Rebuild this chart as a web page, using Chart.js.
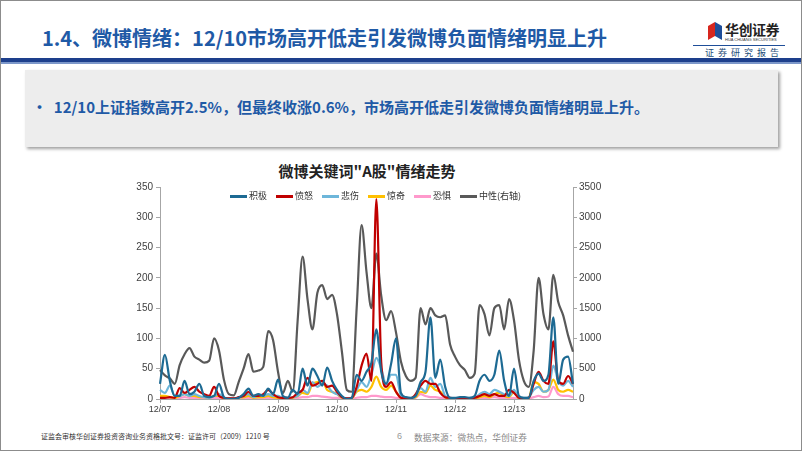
<!DOCTYPE html>
<html>
<head>
<meta charset="utf-8">
<script src="https://cdn.jsdelivr.net/npm/chart.js@4/dist/chart.umd.min.js"></script>
<style>
  html, body { margin: 0; padding: 0; }
  body { width: 802px; height: 451px; position: relative; background: #fff; overflow: hidden;
         font-family: "Noto Sans CJK SC", "Noto Sans", sans-serif; }
  .frame { position: absolute; left: 0; top: 0; width: 800px; height: 449px; border: 1px solid #8c8c8c; }
  .title { position: absolute; left: 42px; top: 23px; font-size: 20px; font-weight: 700; color: #1f5aa6; white-space: nowrap; }
  .logo-icon { position: absolute; left: 708px; top: 22px; width: 14px; height: 18px; }
  .logo-txt { position: absolute; left: 725px; top: 19px; font-size: 14px; font-weight: 700; color: #222; letter-spacing: -0.5px; }
  .logo-en { position: absolute; left: 725px; top: 37px; font-size: 4px; color: #333; font-family: "Liberation Sans", sans-serif; }
  .logo-line { position: absolute; left: 693px; top: 45px; width: 92px; height: 1px; background: #1f4e99; }
  .logo-sub { position: absolute; left: 705px; top: 46px; font-size: 9px; color: #1f4e79; letter-spacing: 4px; }
  .band { position: absolute; left: 1px; top: 58px; width: 800px; height: 4px; background: #1d3f8c; }
  .band2 { position: absolute; left: 1px; top: 62px; width: 800px; height: 2px; background: #7c97c9; }
  .box { position: absolute; left: 25px; top: 70px; width: 753px; height: 77px; background: #ededed; box-shadow: 2px 2px 3px #a0a0a0; }
  .bullet { position: absolute; left: 32px; top: 96px; font-size: 15px; font-weight: 700; color: #1f5aa6; white-space: nowrap; }
  .ctitle { position: absolute; left: 0; width: 734px; top: 160px; text-align: center; font-size: 15px; font-weight: 700; color: #222; }
  .legend { position: absolute; top: 189px; left: 230px; font-size: 9px; color: #333; white-space: nowrap; }
  .legend span.item { display: inline-block; margin-right: 9px; }
  .legend span.sw { display: inline-block; width: 17px; height: 2.5px; vertical-align: middle; margin-right: 2px; }
  .chartbox { position: absolute; left: 125px; top: 178px; width: 485px; height: 237px; }
  .foot1 { position: absolute; left: 41px; top: 431px; font-size: 7px; color: #333; white-space: nowrap; }
  .pnum { position: absolute; left: 397px; top: 431px; font-size: 9px; color: #999; font-family: "Liberation Sans", sans-serif; }
  .foot2 { position: absolute; left: 414px; top: 431px; font-size: 8.7px; color: #888; white-space: nowrap; }
</style>
</head>
<body>
<div class="frame"></div>
<div class="title">1.4、微博情绪：12/10市场高开低走引发微博负面情绪明显上升</div>
<svg class="logo-icon" viewBox="0 0 14 18">
  <polygon points="0,4 7,0 7,14 0,18" fill="#d7261e"/>
  <polygon points="7,0 14,4 14,18 7,14" fill="#1f4e99"/>
</svg>
<div class="logo-txt">华创证券</div>
<div class="logo-en">HUA CHUANG SECURITIES</div>
<div class="logo-line"></div>
<div class="logo-sub">证券研究报告</div>
<div class="band"></div>
<div class="band2"></div>
<div class="box"></div>
<div class="bullet">•&nbsp;&nbsp;12/10上证指数高开2.5%，但最终收涨0.6%，市场高开低走引发微博负面情绪明显上升。</div>
<div class="ctitle">微博关键词"A股"情绪走势</div>
<div class="chartbox"><canvas id="c" width="485" height="237"></canvas></div>
<div class="legend" id="legend"></div>
<div class="foot1">证监会审核华创证券投资咨询业务资格批文号：证监许可（2009）1210 号</div>
<div class="pnum">6</div>
<div class="foot2">数据来源：微热点，华创证券</div>
<script>
// one point every 2 hours, 12/07 00:00 .. 12/14 00:00
const days = ['12/07', '12/08', '12/09', '12/10', '12/11', '12/12', '12/13', '12/14'];
const seriesNames = ['积极', '愤怒', '悲伤', '惊奇', '恐惧', '中性(右轴)'];
const leftTicks = [0, 50, 100, 150, 200, 250, 300, 350];
const rightTicks = [0, 500, 1000, 1500, 2000, 2500, 3000, 3500];

const jiji = [25,73,30,5,5,30,8,12,25,5, 3,5,25,3,0,0,2,8,17,5, 8,5,17,8,32,5,2,15,8,50,
  22,50,38,22,52,30,15,5,0,2, 40,30,45,60,115,45,25,58,100,10, 3,2,5,28,45,135,35,65,20,2,
  2,3,3,2,5,30,40,30,40,80, 30,5,50,5,2,2,30,42,30,40, 135,25,65,70,25];
const fennu = [2,2,3,2,18,10,15,20,12,8, 5,20,5,2,1,1,3,5,12,5, 5,8,15,8,3,2,2,3,10,15,
  35,22,25,30,20,22,12,3,1,2, 20,55,75,30,330,60,20,28,12,2, 1,1,8,22,30,25,25,10,3,2,
  1,1,1,1,2,5,8,5,8,5, 5,15,10,2,1,2,25,45,30,25, 95,30,25,38,25];
const beishang = [15,10,22,5,5,8,5,8,5,3, 2,5,8,2,1,1,2,5,8,3, 5,5,8,5,5,2,2,3,5,15,
  10,28,20,25,22,12,8,3,1,2, 15,28,20,40,68,50,25,40,40,5, 2,1,5,18,12,35,20,25,5,2,
  1,1,1,2,2,8,12,8,15,12, 8,5,15,2,2,3,15,20,12,15, 55,30,22,30,20];
const jingqi = [5,5,3,2,5,8,5,5,3,3, 2,5,5,1,0,0,2,3,5,2, 3,3,5,3,2,1,1,2,5,10,
  8,25,28,30,15,12,8,2,0,1, 12,15,12,20,37,20,15,22,12,2, 1,1,3,12,10,22,15,12,3,1,
  1,0,0,1,1,3,5,3,8,10, 5,3,12,1,1,2,28,25,12,15, 32,15,12,15,12];
const kongju = [3,2,2,1,2,3,2,2,1,1, 1,2,2,1,0,0,1,1,2,1, 1,1,2,1,1,0,0,1,2,3,
  3,5,5,4,3,2,2,1,0,0, 2,3,3,5,5,4,3,3,2,1, 0,0,2,8,5,3,3,2,1,0,
  0,0,0,0,1,1,2,2,3,2, 2,1,2,0,0,1,3,5,3,4, 20,8,5,5,3];
const zhongxing = [480,390,340,250,560,740,840,700,650,600, 630,1000,800,320,80,60,280,500,740,450,
  470,530,1120,970,450,100,300,120,1300,2350, 1650,1150,1750,1880,1650,1720,1400,780,150,120,
  1500,2870,2100,1500,2400,1700,1300,1450,1100,620, 380,300,350,1500,1230,1500,1380,1350,1380,900,
  700,560,480,350,420,1550,1400,1050,1500,1550, 1150,1650,1300,650,300,200,800,2000,1400,1150,
  2050,1600,1380,1050,780];

const labels = [];
days.forEach(function(d, di) {
  for (let h = 0; h < 24; h += 2) {
    if (di === days.length - 1 && h > 0) break;
    labels.push(d + ' ' + String(h).padStart(2, '0') + ':00');
  }
});

const colors = ['#1d6a93', '#c00000', '#6db6da', '#ffc000', '#ff99cc', '#595959'];
const values = [jiji, fennu, beishang, jingqi, kongju, zhongxing];

const datasets = values.map(function(v, i) {
  return {
    label: seriesNames[i],
    data: v,
    borderColor: colors[i],
    backgroundColor: colors[i],
    borderWidth: 2.2,
    pointRadius: 0,
    cubicInterpolationMode: 'monotone',
    yAxisID: i === 5 ? 'y1' : 'y'
  };
});

const axisColor = '#a6a6a6';
const tickFont = { family: '"Liberation Sans", Arial, sans-serif', size: 10 };
const plainNum = function(v) { return String(v); };

const chart = new Chart(document.getElementById('c'), {
  type: 'line',
  data: { labels: labels, datasets: datasets },
  options: {
    responsive: false,
    animation: false,
    layout: { padding: { top: 8, left: 0, right: 0, bottom: 0 } },
    plugins: { legend: { display: false }, title: { display: false }, tooltip: { enabled: false } },
    scales: {
      x: {
        type: 'category',
        offset: false,
        grid: { display: true, drawOnChartArea: false, drawTicks: true, tickLength: 4, color: axisColor },
        border: { display: true, color: axisColor },
        ticks: {
          autoSkip: false, maxRotation: 0, padding: 1, color: '#404040',
          font: { family: tickFont.family, size: 9 },
          callback: function(value) { return this.getLabelForValue(value).slice(0, 5); }
        },
        afterBuildTicks: function(s) {
          s.ticks = s.ticks.filter(function(t) { return t.value % 12 === 0 && t.value < labels.length - 1; });
        },
        afterFit: function(s) { s.height = 16; }
      },
      y: {
        position: 'left', min: 0, max: 350,
        grid: { display: true, drawOnChartArea: false, drawTicks: true, tickLength: 4, color: axisColor },
        border: { display: true, color: axisColor },
        ticks: { color: '#404040', font: tickFont, padding: 3, callback: plainNum },
        afterBuildTicks: function(s) { s.ticks = leftTicks.map(function(v) { return { value: v }; }); },
        afterFit: function(s) { s.width = 35; }
      },
      y1: {
        position: 'right', min: 0, max: 3500,
        grid: { display: true, drawOnChartArea: false, drawTicks: true, tickLength: 4, color: axisColor },
        border: { display: true, color: axisColor },
        ticks: { color: '#404040', font: tickFont, padding: 2, callback: plainNum },
        afterBuildTicks: function(s) { s.ticks = rightTicks.map(function(v) { return { value: v }; }); },
        afterFit: function(s) { s.width = 37; }
      }
    }
  }
});

// legend drawn over the plot, as in the original
const lg = document.getElementById('legend');
chart.data.datasets.forEach(function(ds) {
  const it = document.createElement('span');
  it.className = 'item';
  it.innerHTML = '<span class="sw" style="background:' + ds.borderColor + '"></span>' + ds.label;
  lg.appendChild(it);
});
</script>
</body>
</html>
